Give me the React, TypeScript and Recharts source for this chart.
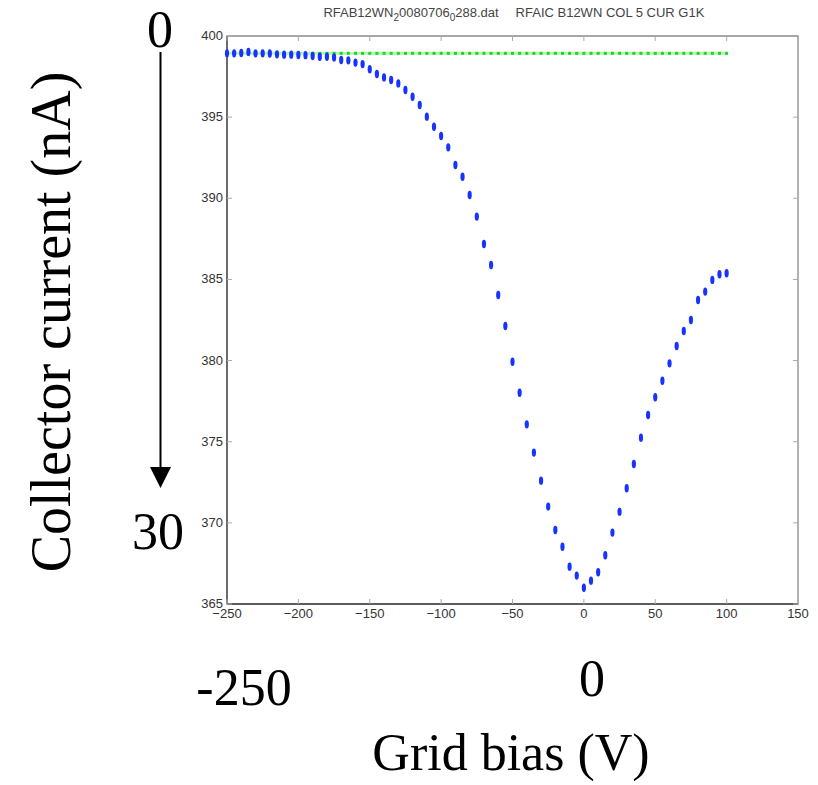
import React from 'react';
import { ScatterChart, Scatter, XAxis, YAxis, ReferenceArea } from 'recharts';

// grid bias (V), one reading every 5 V
const biasV = [
  -250, -245, -240, -235, -230, -225, -220, -215, -210, -205,
  -200, -195, -190, -185, -180, -175, -170, -165, -160, -155,
  -150, -145, -140, -135, -130, -125, -120, -115, -110, -105,
  -100, -95, -90, -85, -80, -75, -70, -65, -60, -55,
  -50, -45, -40, -35, -30, -25, -20, -15, -10, -5,
  0, 5, 10, 15, 20, 25, 30, 35, 40, 45,
  50, 55, 60, 65, 70, 75, 80, 85, 90, 95,
  100,
];

// collector signal, blue scan
const blueCurrent = [
  398.93, 398.93, 398.95, 399.02, 398.93, 398.93, 398.92, 398.87, 398.85, 398.85,
  398.83, 398.82, 398.77, 398.72, 398.72, 398.68, 398.52, 398.5, 398.36, 398.27,
  397.95, 397.66, 397.45, 397.29, 397.08, 396.67, 396.26, 395.75, 395.03, 394.41,
  393.84, 393.14, 392.05, 391.33, 390.2, 388.87, 387.18, 385.89, 384.04, 382.13,
  379.93, 378.02, 376.07, 374.33, 372.6, 371.0, 369.56, 368.53, 367.3, 366.75,
  366.0, 366.44, 366.96, 368.0, 369.4, 370.69, 372.13, 373.63, 375.25, 376.65,
  377.74, 378.76, 379.83, 380.9, 381.82, 382.5, 383.73, 384.25, 384.97, 385.32,
  385.38,
];

// reference level, green scan
const greenCurrent = [
  398.93, 398.93, 398.93, 398.93, 398.93, 398.93, 398.93, 398.93, 398.93, 398.93,
  398.93, 398.93, 398.93, 398.93, 398.93, 398.93, 398.93, 398.93, 398.93, 398.93,
  398.93, 398.93, 398.93, 398.93, 398.93, 398.93, 398.93, 398.93, 398.93, 398.93,
  398.93, 398.93, 398.93, 398.93, 398.93, 398.93, 398.93, 398.93, 398.93, 398.93,
  398.93, 398.93, 398.93, 398.93, 398.93, 398.93, 398.93, 398.93, 398.93, 398.93,
  398.93, 398.93, 398.93, 398.93, 398.93, 398.93, 398.93, 398.93, 398.93, 398.93,
  398.93, 398.93, 398.93, 398.93, 398.93, 398.93, 398.93, 398.93, 398.93, 398.93,
  398.93,
];

const xTicks = [-250, -200, -150, -100, -50, 0, 50, 100, 150];
const yTicks = [365, 370, 375, 380, 385, 390, 395, 400];

const blueData = biasV.map((v, i) => ({ x: v, y: blueCurrent[i] }));
const greenData = biasV.map((v, i) => ({ x: v, y: greenCurrent[i] }));

const PLOT_W = 571;
const PLOT_H = 568;
const tickFont = '"Liberation Sans Narrow", "Liberation Sans", Arial, sans-serif';
const serif = '"Liberation Serif", "Times New Roman", serif';

const fmt = (v: number) => (v < 0 ? '\u2212' + Math.abs(v) : String(v));

const XTick = (props: any) => {
  const { x, y, payload } = props;
  return (
    <g>
      <line x1={x} x2={x} y1={y} y2={y - 5} stroke="#aaa" />
      <line x1={x} x2={x} y1={y - PLOT_H} y2={y - PLOT_H + 5} stroke="#aaa" />
      <text x={x} y={y + 14} textAnchor="middle" fontSize={13} fill="#333" fontFamily={tickFont}>
        {fmt(payload.value)}
      </text>
    </g>
  );
};

const YTick = (props: any) => {
  const { x, y, payload } = props;
  return (
    <g>
      <line x1={x} x2={x + 5} y1={y} y2={y} stroke="#aaa" />
      <line x1={x + PLOT_W} x2={x + PLOT_W - 5} y1={y} y2={y} stroke="#aaa" />
      <text x={x - 4} y={y + 4} textAnchor="end" fontSize={13} fill="#333" fontFamily={tickFont}>
        {payload.value}
      </text>
    </g>
  );
};

const BlueMark = (p: any) => <ellipse cx={p.cx} cy={p.cy} rx={2.1} ry={4.2} fill="#1633ff" />;
const GreenMark = (p: any) => <rect x={p.cx - 1.5} y={p.cy - 1.5} width={3} height={3} fill="#22d422" />;

export default function App() {
  return (
    <div style={{ position: 'absolute', left: 0, top: 0, width: 818, height: 785, background: '#fff' }}>
      <ScatterChart width={818} height={785} margin={{ top: 36, right: 20, left: 187, bottom: 151 }}>
        <XAxis
          type="number"
          dataKey="x"
          domain={[-250, 150]}
          ticks={xTicks}
          height={30}
          tickSize={0}
          tickMargin={0}
          tickLine={false}
          axisLine={{ stroke: '#444', strokeWidth: 1.3 }}
          tick={<XTick />}
          interval={0}
        />
        <YAxis
          type="number"
          dataKey="y"
          domain={[365, 400]}
          ticks={yTicks}
          width={40}
          tickSize={0}
          tickMargin={0}
          tickLine={false}
          axisLine={{ stroke: '#444', strokeWidth: 1.3 }}
          tick={<YTick />}
          interval={0}
        />
        <ReferenceArea x1={-250} x2={150} y1={365} y2={400} fill="none" stroke="#8a8a8a" strokeWidth={1.3} />
        <Scatter
          data={greenData}
          line={{ stroke: '#b4f5b4', strokeWidth: 3 }}
          shape={<GreenMark />}
          isAnimationActive={false}
        />
        <Scatter data={blueData} shape={<BlueMark />} isAnimationActive={false} />
      </ScatterChart>

      <svg width={818} height={785} style={{ position: 'absolute', left: 0, top: 0, pointerEvents: 'none' }}>
        <text x={411} y={17} textAnchor="middle" fontSize={13} fill="#444" fontFamily={tickFont}>
          RFAB12WN<tspan dy={4} fontSize={10}>2</tspan>
          <tspan dy={-4}>0080706</tspan>
          <tspan dy={4} fontSize={10}>0</tspan>
          <tspan dy={-4}>288.dat</tspan>
        </text>
        <text x={610} y={17} textAnchor="middle" fontSize={13} fill="#444" fontFamily={tickFont}>
          RFAIC B12WN COL 5 CUR G1K
        </text>

        <text x={160} y={47} textAnchor="middle" fontSize={52} fontFamily={serif} fill="#000">0</text>
        <line x1={160.5} x2={160.5} y1={52} y2={470} stroke="#000" strokeWidth={2} />
        <polygon points="150,467 171,467 160.5,488" fill="#000" />
        <text x={158} y={549} textAnchor="middle" fontSize={52} fontFamily={serif} fill="#000">30</text>
        <text
          transform="translate(70,322) rotate(-90)"
          textAnchor="middle"
          fontSize={56}
          fontFamily={serif}
          fill="#000"
        >
          Collector current (nA)
        </text>
        <text x={244} y={705} textAnchor="middle" fontSize={52} fontFamily={serif} fill="#000">-250</text>
        <text x={592} y={696} textAnchor="middle" fontSize={52} fontFamily={serif} fill="#000">0</text>
        <text x={511} y={770} textAnchor="middle" fontSize={52} fontFamily={serif} fill="#000">Grid bias (V)</text>
      </svg>
    </div>
  );
}
